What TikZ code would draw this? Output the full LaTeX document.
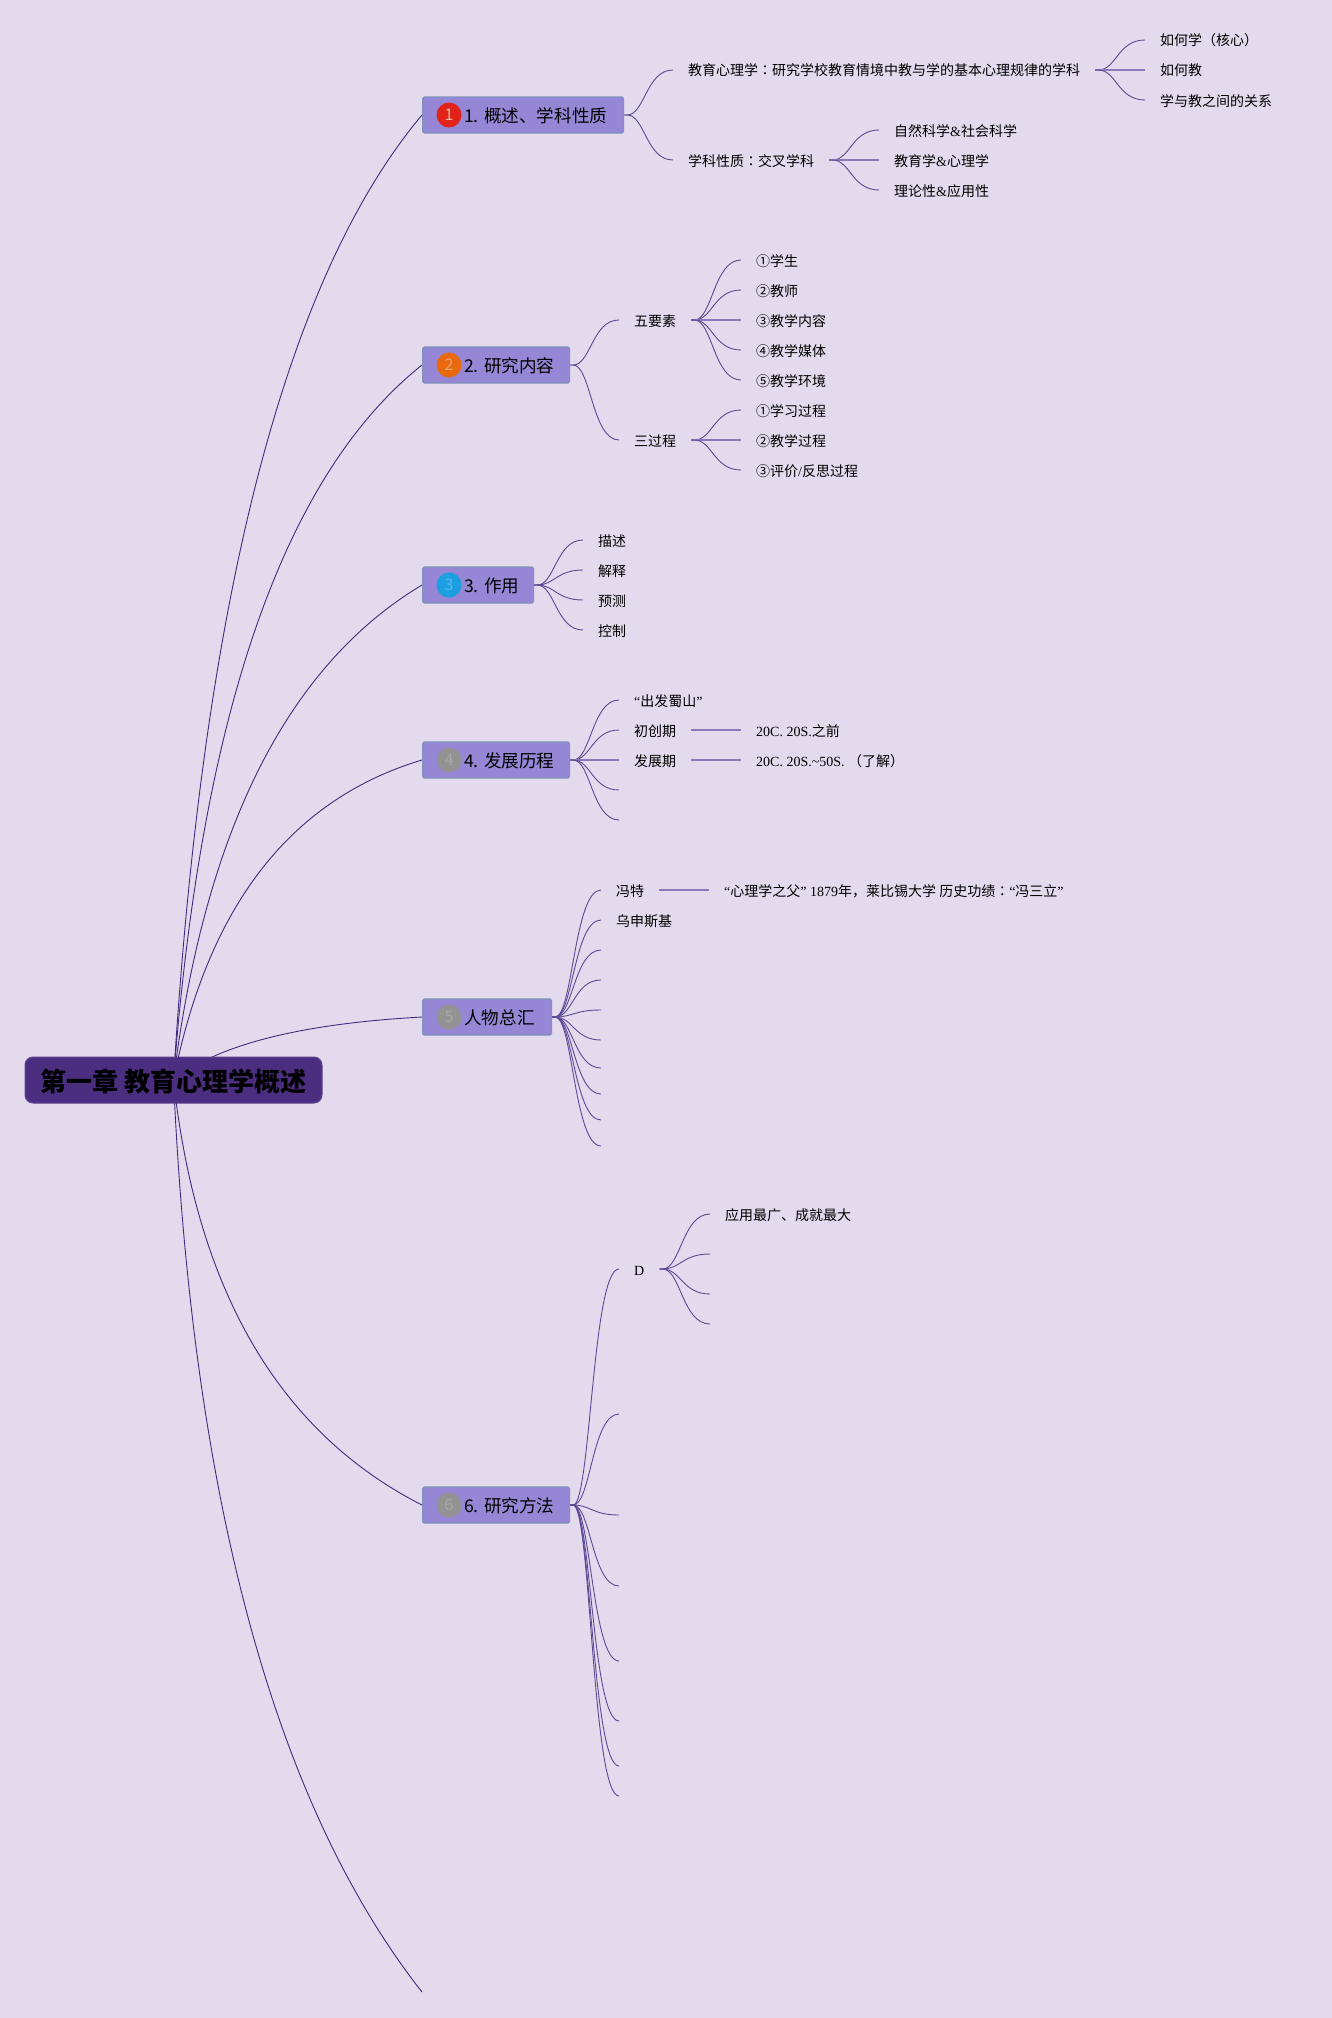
\documentclass[tikz,border=0pt]{standalone}
\usepackage{fontspec}
\setmainfont{Liberation Serif}
\newfontfamily\cjk{Noto Sans CJK SC}
\newfontfamily\cjkcolon{Noto Sans CJK TC}
\usetikzlibrary{backgrounds,calc}
\definecolor{pagebg}{HTML}{E3DAED}
\definecolor{boxfill}{HTML}{9686D6}
\definecolor{boxline}{HTML}{7F92B8}
\definecolor{rootfill}{HTML}{4C2E80}
\definecolor{mainedge}{HTML}{3F2C7C}
\definecolor{subedge}{HTML}{5B4A94}
\definecolor{flatedge}{HTML}{8A78B8}
\definecolor{redbadge}{HTML}{E2231A}
\definecolor{orangebadge}{HTML}{E8690F}
\definecolor{bluebadge}{HTML}{1B9FE0}
\definecolor{greybadge}{HTML}{939393}
\definecolor{reddigit}{HTML}{F2B8A8}
\definecolor{orangedigit}{HTML}{F0A468}
\definecolor{bluedigit}{HTML}{58B8EA}
\definecolor{greydigit}{HTML}{A8A8A8}
\newcommand{\C}[1]{{\cjk #1}}
\newcommand{\Kolon}{{\cjkcolon ：}}
\tikzset{
  x=1pt,y=-1pt,
  rootbox/.style={draw=rootfill!90!white,fill=rootfill,rounded corners=8pt,line width=1pt,minimum width=297pt,minimum height=46pt,inner sep=0pt,text height=22.8pt,text depth=0pt,font=\fontsize{26}{26}\selectfont\cjk\bfseries,text=black},
  topicbox/.style={draw=boxline,fill=boxfill,rounded corners=1.5pt,line width=1.2pt,minimum height=36pt,inner sep=0pt,anchor=west},
  topiclabel/.style={anchor=west,inner sep=0pt,font=\fontsize{17.6}{18}\selectfont\cjk,text=black},
  badge/.style={circle,minimum size=25pt,inner sep=0pt,font=\fontsize{16}{16}\selectfont\cjk},
  leaf/.style={anchor=west,inner xsep=15pt,inner ysep=0pt,text height=12pt,text depth=0pt,font=\fontsize{14}{14}\selectfont,text=black},
  mainline/.style={draw=mainedge,line width=0.9pt},
  stem/.style={draw=subedge,line width=0.9pt},
  flat/.style={draw=flatedge,line width=1.7pt},
}
\newcommand{\branch}[2]{\draw[stem] (#1) let \p1=(#1),\p2=(#2) in -- (\x1+3pt,\y1) .. controls (\x1*.58+\x2*.42,\y1) and (\x1*.55+\x2*.45,\y2) .. (#2);}
\newcommand{\flatbranch}[2]{\draw[flat] (#1) -- (#2);}
\newcommand{\mainbranch}[2]{\draw[mainline] (root.center) .. controls ($(root.center)!.667!(#1)$) and ($(#2)!.667!(#1)$) .. (#2);}
\begin{document}
\begin{tikzpicture}
\useasboundingbox (0,0) rectangle (1332,2018);
\begin{scope}[on background layer]
  \fill[pagebg] (0,0) rectangle (1332,2018);
\end{scope}
% root
\node[rootbox] (root) at (173.5,1080) {第一章 教育心理学概述};
% topics
\node[topicbox,minimum width=201pt] (t1) at (422,115) {};
\node[topicbox,minimum width=147pt] (t2) at (422,365) {};
\node[topicbox,minimum width=111pt] (t3) at (422,585) {};
\node[topicbox,minimum width=147pt] (t4) at (422,760) {};
\node[topicbox,minimum width=129pt] (t5) at (422,1017) {};
\node[topicbox,minimum width=147pt] (t6) at (422,1505) {};
\node[badge,fill=redbadge,text=reddigit] (b1) at (449,115) {1};
\node[badge,fill=orangebadge,text=orangedigit] (b2) at (449,365) {2};
\node[badge,fill=bluebadge,text=bluedigit] (b3) at (449,585) {3};
\node[badge,fill=greybadge,text=greydigit] (b4) at (449,760) {4};
\node[badge,fill=greybadge,text=greydigit] (b5) at (449,1017) {5};
\node[badge,fill=greybadge,text=greydigit] (b6) at (449,1505) {6};
\node[topiclabel] (l1) at (464,116) {1. 概述、学科性质};
\node[topiclabel] (l2) at (464,366) {2. 研究内容};
\node[topiclabel] (l3) at (464,586) {3. 作用};
\node[topiclabel] (l4) at (464,761) {4. 发展历程};
\node[topiclabel] (l5) at (464,1018) {人物总汇};
\node[topiclabel] (l6) at (464,1506) {6. 研究方法};
\coordinate (t7) at (422,1992);
% topic 1
\node[leaf] (a1) at (673,70) {\C{教育心理学}\Kolon\C{研究学校教育情境中教与学的基本心理规律的学科}};
\node[leaf] (a2) at (673,160) {\C{学科性质}\Kolon\C{交叉学科}};
\node[leaf] (a11) at (1145,40) {\C{如何学（核心）}};
\node[leaf] (a12) at (1145,70) {\C{如何教}};
\node[leaf] (a13) at (1145,100) {\C{学与教之间的关系}};
\node[leaf] (a21) at (879,130) {\C{自然科学}\&\C{社会科学}};
\node[leaf] (a22) at (879,160) {\C{教育学}\&\C{心理学}};
\node[leaf] (a23) at (879,190) {\C{理论性}\&\C{应用性}};
% topic 2
\node[leaf] (c1) at (619,320) {\C{五要素}};
\node[leaf] (c2) at (619,440) {\C{三过程}};
\node[leaf] (c11) at (741,260) {\C{①学生}};
\node[leaf] (c12) at (741,290) {\C{②教师}};
\node[leaf] (c13) at (741,320) {\C{③教学内容}};
\node[leaf] (c14) at (741,350) {\C{④教学媒体}};
\node[leaf] (c15) at (741,380) {\C{⑤教学环境}};
\node[leaf] (c21) at (741,410) {\C{①学习过程}};
\node[leaf] (c22) at (741,440) {\C{②教学过程}};
\node[leaf] (c23) at (741,470) {\C{③评价}/\C{反思过程}};
% topic 3
\node[leaf] (d1) at (583,540) {\C{描述}};
\node[leaf] (d2) at (583,570) {\C{解释}};
\node[leaf] (d3) at (583,600) {\C{预测}};
\node[leaf] (d4) at (583,630) {\C{控制}};
% topic 4
\node[leaf] (e1) at (619,700) {“\C{出发蜀山}”};
\node[leaf] (e2) at (619,730) {\C{初创期}};
\node[leaf] (e3) at (619,760) {\C{发展期}};
\coordinate (e4) at (619,790);
\coordinate (e5) at (619,820);
\node[leaf] (e21) at (741,730) {20C. 20S.\C{之前}};
\node[leaf] (e31) at (741,760) {20C. 20S.\textasciitilde50S. \C{（了解）}};
% topic 5
\node[leaf] (f1) at (601,890) {\C{冯特}};
\node[leaf] (f2) at (601,920) {\C{乌申斯基}};
\coordinate (f3) at (601,950);
\coordinate (f4) at (601,980);
\coordinate (f5) at (601,1010);
\coordinate (f6) at (601,1040);
\coordinate (f7) at (601,1068);
\coordinate (f8) at (601,1094);
\coordinate (f9) at (601,1120);
\coordinate (f10) at (601,1146);
\node[leaf] (f11) at (709,890) {“\C{心理学之父}” 1879\C{年，莱比锡大学 历史功绩}\Kolon“\C{冯三立}”};
% topic 6
\node[leaf] (g1) at (619,1269) {D};
\coordinate (g2) at (619,1414);
\coordinate (g3) at (619,1515);
\coordinate (g4) at (619,1586);
\coordinate (g5) at (619,1661);
\coordinate (g6) at (619,1721);
\coordinate (g7) at (619,1766);
\coordinate (g8) at (619,1796);
\node[leaf] (g11) at (710,1214) {\C{应用最广、成就最大}};
\coordinate (g12) at (710,1254);
\coordinate (g13) at (710,1294);
\coordinate (g14) at (710,1324);
% connectors
\begin{scope}[on background layer]
  \coordinate (q1) at (217,359);
  \coordinate (q2) at (215,530);
  \coordinate (q3) at (220,706);
  \coordinate (q4) at (225,819);
  \coordinate (q5) at (240,1027);
  \coordinate (q6) at (208,1396);
  \coordinate (q7) at (202,1712);
  \mainbranch{q1}{t1.west}
  \mainbranch{q2}{t2.west}
  \mainbranch{q3}{t3.west}
  \mainbranch{q4}{t4.west}
  \mainbranch{q5}{t5.west}
  \mainbranch{q6}{t6.west}
  \mainbranch{q7}{t7}
  \branch{t1.east}{a1.west}
  \branch{t1.east}{a2.west}
  \branch{a1.east}{a11.west}
  \flatbranch{a1.east}{a12.west}
  \branch{a1.east}{a13.west}
  \branch{a2.east}{a21.west}
  \flatbranch{a2.east}{a22.west}
  \branch{a2.east}{a23.west}
  \branch{t2.east}{c1.west}
  \branch{t2.east}{c2.west}
  \branch{c1.east}{c11.west}
  \branch{c1.east}{c12.west}
  \flatbranch{c1.east}{c13.west}
  \branch{c1.east}{c14.west}
  \branch{c1.east}{c15.west}
  \branch{c2.east}{c21.west}
  \flatbranch{c2.east}{c22.west}
  \branch{c2.east}{c23.west}
  \branch{t3.east}{d1.west}
  \branch{t3.east}{d2.west}
  \branch{t3.east}{d3.west}
  \branch{t3.east}{d4.west}
  \branch{t4.east}{e1.west}
  \branch{t4.east}{e2.west}
  \flatbranch{t4.east}{e3.west}
  \branch{t4.east}{e4}
  \branch{t4.east}{e5}
  \flatbranch{e2.east}{e21.west}
  \flatbranch{e3.east}{e31.west}
  \branch{t5.east}{f1.west}
  \branch{t5.east}{f2.west}
  \branch{t5.east}{f3}
  \branch{t5.east}{f4}
  \branch{t5.east}{f5}
  \branch{t5.east}{f6}
  \branch{t5.east}{f7}
  \branch{t5.east}{f8}
  \branch{t5.east}{f9}
  \branch{t5.east}{f10}
  \flatbranch{f1.east}{f11.west}
  \branch{t6.east}{g1.west}
  \branch{t6.east}{g2}
  \branch{t6.east}{g3}
  \branch{t6.east}{g4}
  \branch{t6.east}{g5}
  \branch{t6.east}{g6}
  \branch{t6.east}{g7}
  \branch{t6.east}{g8}
  \branch{g1.east}{g11.west}
  \branch{g1.east}{g12}
  \branch{g1.east}{g13}
  \branch{g1.east}{g14}
\end{scope}
\end{tikzpicture}
\end{document}
